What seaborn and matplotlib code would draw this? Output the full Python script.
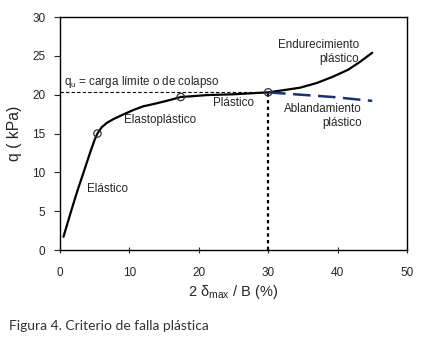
import pandas as pd
import matplotlib
matplotlib.use('Agg')
import matplotlib.pyplot as plt
import seaborn as sns

# curva principal (elástico -> plástico -> endurecimiento)
x_main = [0.5, 1.6, 2.5, 3.4, 4.4, 5.0, 5.4, 6.0, 6.8, 7.8, 9.0, 10.5, 12.0, 14.0, 16.0, 17.4, 19.0,
          21.2, 25.0, 28.0, 30.0, 32.0, 34.6, 37.0, 39.3, 41.5, 43.2, 45.0]
y_main = [1.7, 5.0, 7.6, 10.0, 12.7, 14.2, 15.0, 15.8, 16.4, 16.9, 17.4, 18.0, 18.5, 18.9, 19.35, 19.7, 19.8,
          19.95, 20.05, 20.2, 20.3, 20.55, 20.9, 21.5, 22.3, 23.2, 24.2, 25.4]

# ablandamiento plástico
x_soft = [30.0, 34.6, 39.3, 45.0]
y_soft = [20.3, 20.0, 19.7, 19.2]

# puntos marcados
x_pts = [5.4, 17.4, 30.0]
y_pts = [15.0, 19.7, 20.3]

q_u = 20.3
x_u = 30.0

sns.set_theme(style='white')
plt.rcParams['font.family'] = ['Liberation Sans', 'DejaVu Sans']

fig = plt.figure(figsize=(4.27, 3.47), dpi=100)
ax = fig.add_axes([0.1405, 0.2795, 0.8125, 0.6715])

df_main = pd.DataFrame({'x': x_main, 'y': y_main})
df_soft = pd.DataFrame({'x': x_soft, 'y': y_soft})
df_pts = pd.DataFrame({'x': x_pts, 'y': y_pts})

sns.lineplot(data=df_main, x='x', y='y', sort=False, color='black', linewidth=1.6, ax=ax)
sns.lineplot(data=df_soft, x='x', y='y', sort=False, color='#1c3270', linewidth=1.8,
             dashes=False, ax=ax).lines[-1].set_dashes([7, 3])
sns.scatterplot(data=df_pts, x='x', y='y', s=28, facecolor='none', edgecolor='#333333',
                linewidth=0.9, zorder=5, ax=ax)

# líneas de referencia
ax.plot([0, x_u], [q_u, q_u], color='black', linestyle=(0, (3, 2)), linewidth=0.8)
ax.plot([x_u, x_u], [0, q_u], color='black', linestyle=(0, (1.5, 1.5)), linewidth=1.6)

ax.set_xlim(0, 50)
ax.set_ylim(0, 30)
ax.set_xticks([0, 10, 20, 30, 40, 50])
ax.set_yticks([0, 5, 10, 15, 20, 25, 30])
ax.tick_params(axis='y', direction='out', length=4, width=0.8, left=True, labelsize=8.5, pad=6.5)
ax.tick_params(axis='x', direction='inout', length=5, width=0.8, bottom=True, labelsize=8.5, pad=9.5)
for s in ax.spines.values():
    s.set_color('black')
    s.set_linewidth(1.0)

ax.set_xlabel(r'2 $\mathregular{\delta_{max}}$ / B (%)', fontsize=10.5, labelpad=3)
ax.set_ylabel('q ( kPa)', fontsize=11.3, labelpad=7)

fs = 8.4
ax.text(0.6, 21.6, r'q$_{\mathregular{u}}$ = carga límite o de colapso', fontsize=fs, va='center')
ax.text(9.2, 16.7, 'Elastoplástico', fontsize=fs, va='center')
ax.text(3.9, 7.9, 'Elástico', fontsize=fs, va='center')
ax.text(22.0, 18.9, 'Plástico', fontsize=fs, va='center')
ax.text(43.1, 25.5, 'Endurecimiento\nplástico', fontsize=fs, va='center', ha='right',
        linespacing=1.2)
ax.text(43.5, 17.3, 'Ablandamiento\nplástico', fontsize=fs, va='center', ha='right',
        linespacing=1.2)

fig.text(0.02, 0.048, 'Figura 4. Criterio de falla plástica', fontsize=10,
         family=['Lato', 'DejaVu Sans'], color='#333333')

fig.savefig('out.png', dpi=100)
